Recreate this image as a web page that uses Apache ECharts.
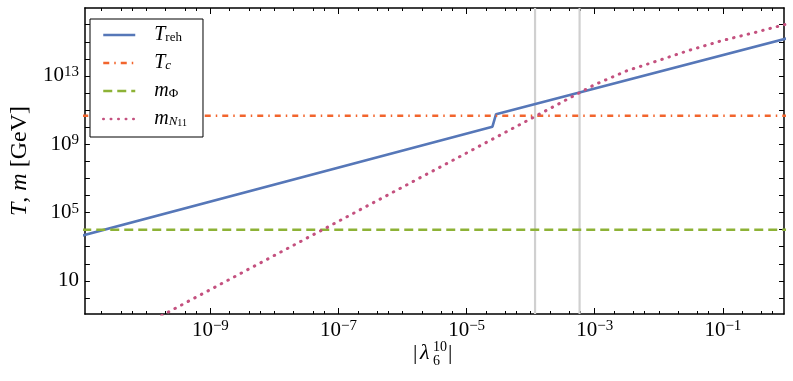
<!DOCTYPE html>
<html><head><meta charset="utf-8">
<script src="https://cdn.jsdelivr.net/npm/echarts@6/dist/echarts.min.js"></script>
<style>html,body{margin:0;padding:0;background:#fff}#c{width:793px;height:381px}</style>
</head><body><div id="c"></div>
<script>
// ---- data ----
const lambdaTreh = [1e-11, 2.53e-5, 2.88e-5, 1];
const Treh = [4.5e3, 1.07e10, 5.75e10, 1.6e15];
const lambdaFlat = [1e-11, 1];
const Tc = [4.7e10, 4.7e10];
const mPhi = [1e4, 1e4];
const lambdaN = [1e-11,1e-10,1e-9,1e-8,1e-7,1e-6,1e-5,1e-4,3.16e-4,1e-3,3.16e-3,1e-2,3.16e-2,0.1,0.316,1];
const mN11 = [3.1e-4,0.031,3.1,310,3.1e4,3.1e6,3.1e8,3.1e10,3.1e11,3.1e12,2.0e13,8.1e13,3.4e14,1.2e15,3.5e15,1.1e16];
const vlinesX = [1.17e-4, 5.8e-4];
const xMajorTicks = [1e-9,1e-7,1e-5,1e-3,1e-1];
const yMajorTicks = [10,1e5,1e9,1e13];
const xMin = 1.1e-11, xMax = 0.9, yMin = 0.115, yMax = 9.5e16;

// minor tick positions
const xMinorTicks = [];
for (let e = -12; e <= 0; e++) {
  [1,2,4,6].forEach(m => {
    const v = m * Math.pow(10, e);
    if (v >= xMin && v <= xMax && !(m === 1 && e % 2 !== 0)) xMinorTicks.push(v);
  });
}
const yTicks = [];
for (let e = -1; e <= 17; e++) { const v = Math.pow(10, e); if (v >= yMin && v <= yMax) yTicks.push(v); }

const FONT = '"Liberation Serif", "DejaVu Serif", serif';
const BLACK = '#000';
const supRich = { fontSize: 15, fontFamily: FONT, color: BLACK, verticalAlign: 'top', lineHeight: 15 };
function exp10(v) { return Math.round(Math.log10(v)); }
function fmtX(v) { const e = exp10(v); return '10{sup|' + String(e).replace('-', '\u2212') + '}'; }
function fmtY(v) { const e = exp10(v); return e === 1 ? '10' : '10{sup|' + e + '}'; }

const legendNames = {
  Treh: '{it|T}{sub|reh}',
  Tc: '{it|T}{subi|c}',
  mPhi: '{it|m}{sub|\u03A6}',
  mN11: '{it|m}{subi|N}{ss|11}'
};

function logAxis(pos, ticks, len, showLine, labels) {
  const isX = pos === 'bottom' || pos === 'top';
  return {
    type: 'log', logBase: 10, position: pos,
    min: isX ? xMin : yMin, max: isX ? xMax : yMax,
    axisLine: { show: showLine, onZero: false, lineStyle: { color: BLACK, width: 1.5 } },
    axisTick: { show: true, inside: true, length: len, customValues: ticks, lineStyle: { color: BLACK, width: 1 } },
    minorTick: { show: false },
    splitLine: { show: false },
    axisLabel: labels ? Object.assign({ show: true }, labels) : { show: false }
  };
}

const chart = echarts.init(document.getElementById('c'), null, { renderer: 'canvas' });
const option = {
  animation: false,
  backgroundColor: '#fff',
  grid: { left: 80, right: 9, top: 8, bottom: 67, containLabel: false },
  xAxis: [
    logAxis('bottom', xMajorTicks, 6, true, {
      customValues: xMajorTicks, margin: 5, formatter: fmtX,
      fontSize: 21, fontFamily: FONT, color: BLACK, lineHeight: 23,
      rich: { sup: supRich }
    }),
    logAxis('bottom', xMinorTicks, 3, false, null),
    logAxis('top', xMajorTicks, 6, true, null),
    logAxis('top', xMinorTicks, 3, false, null)
  ],
  yAxis: [
    Object.assign(logAxis('left', yTicks, 5, true, {
      customValues: yMajorTicks, margin: 6, formatter: fmtY,
      fontSize: 21, fontFamily: FONT, color: BLACK, lineHeight: 23,
      rich: { sup: supRich }
    }), {
      name: '{it|T}, {it|m} [GeV]', nameLocation: 'middle', nameGap: 50, nameRotate: 90,
      nameTextStyle: { fontSize: 24, fontFamily: FONT, color: BLACK,
        rich: { it: { fontSize: 24, fontFamily: FONT, fontStyle: 'italic', color: BLACK } } }
    }),
    logAxis('right', yTicks, 5, true, null)
  ],
  legend: {
    data: ['Treh', 'Tc', 'mPhi', 'mN11'],
    orient: 'vertical', left: 90, top: 19,
    itemWidth: 32, itemHeight: 14, itemGap: 8,
    backgroundColor: '#fff', borderColor: BLACK, borderWidth: 1, borderRadius: 0,
    padding: [6, 16, 8, 12],
    lineStyle: { width: 2.5 },
    itemStyle: { color: 'rgba(0,0,0,0)', borderColor: 'rgba(0,0,0,0)', borderWidth: 0 },
    formatter: n => legendNames[n],
    textStyle: {
      fontSize: 19, fontFamily: FONT, color: BLACK, padding: [0, 0, 0, 14],
      rich: {
        it: { fontSize: 20, fontFamily: FONT, fontStyle: 'italic', color: BLACK, lineHeight: 19 },
        sub: { fontSize: 13, fontFamily: FONT, color: BLACK, verticalAlign: 'bottom', lineHeight: 11 },
        subi: { fontSize: 13, fontFamily: FONT, fontStyle: 'italic', color: BLACK, verticalAlign: 'bottom', lineHeight: 11 },
        ss: { fontSize: 10, fontFamily: FONT, color: BLACK, verticalAlign: 'bottom', lineHeight: 7 }
      }
    }
  },
  graphic: [
    { type: 'text', left: 413, top: 342, style: { text: '|', font: '22px ' + FONT, fill: BLACK } },
    { type: 'text', left: 420, top: 342, style: { text: '\u03BB', font: 'italic 22px ' + FONT, fill: BLACK } },
    { type: 'text', left: 433, top: 340, style: { text: '10', font: '14px ' + FONT, fill: BLACK } },
    { type: 'text', left: 433, top: 354, style: { text: '6', font: '14px ' + FONT, fill: BLACK } },
    { type: 'text', left: 448, top: 342, style: { text: '|', font: '22px ' + FONT, fill: BLACK } }
  ],
  series: [
    ...vlinesX.map((v, i) => ({
      name: 'vline' + i, type: 'line', symbol: 'none', z: 1, silent: true,
      data: [[v, yMin], [v, yMax]],
      lineStyle: { color: '#d0d0d0', width: 2.2 }
    })),
    {
      name: 'Treh', type: 'line', symbol: 'none', z: 3,
      data: lambdaTreh.map((x, i) => [x, Treh[i]]),
      lineStyle: { color: '#5677b8', width: 2.6 }, itemStyle: { color: '#5677b8' }
    },
    {
      name: 'Tc', type: 'line', symbol: 'none', z: 3,
      data: lambdaFlat.map((x, i) => [x, Tc[i]]),
      lineStyle: { color: '#f2652d', width: 2.5, type: [6, 5, 1.5, 5] }, itemStyle: { color: '#f2652d' }
    },
    {
      name: 'mPhi', type: 'line', symbol: 'none', z: 3,
      data: lambdaFlat.map((x, i) => [x, mPhi[i]]),
      lineStyle: { color: '#8db236', width: 2.5, type: [9, 5] }, itemStyle: { color: '#8db236' }
    },
    {
      name: 'mN11', type: 'line', symbol: 'none', z: 3,
      data: lambdaN.map((x, i) => [x, mN11[i]]),
      lineStyle: { color: '#c4517f', width: 3, type: [0.5, 7], cap: 'round' }, itemStyle: { color: '#c4517f' }
    }
  ]
};
chart.setOption(option);
</script></body></html>
